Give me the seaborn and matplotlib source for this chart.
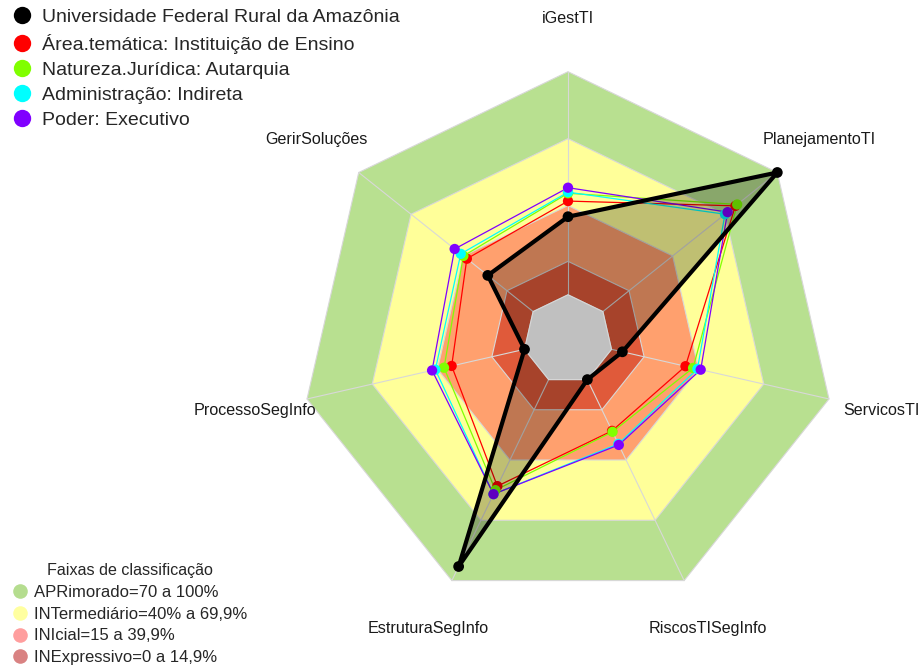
import numpy as np
import pandas as pd
import seaborn as sns
import matplotlib.pyplot as plt
from matplotlib.lines import Line2D

# eixos do radar (sentido horario a partir do topo)
axis_labels = ['iGestTI', 'PlanejamentoTI', 'ServicosTI', 'RiscosTISegInfo',
               'EstruturaSegInfo', 'ProcessoSegInfo', 'GerirSoluções']

series_names = ['Universidade Federal Rural da Amazônia',
                'Área.temática: Instituição de Ensino',
                'Natureza.Jurídica: Autarquia',
                'Administração: Indireta',
                'Poder: Executivo']
series_colors = ['black', '#FF0000', '#80FF00', '#00FFFF', '#8000FF']

ufra = [35, 100, 5, 0, 93, 0, 26]
area_tematica = [42, 76, 34, 25.5, 53, 33.5, 38]
natureza = [45.5, 77, 37.5, 26, 55, 37, 40]
administracao = [46, 70, 39.5, 32, 57, 41, 41.5]
poder = [48, 71.5, 41, 32.5, 57, 42.5, 45]
series_values = [ufra, area_tematica, natureza, administracao, poder]

# faixas de classificacao
band_levels = [100, 70, 40, 15]
band_colors = ['#B8E090', '#FFFF99', '#FFA06E', '#E05A3A']
center_color = '#C0C0C0'
band_labels = ['APRimorado=70 a 100%', 'INTermediário=40% a 69,9%',
               'INIcial=15 a 39,9%', 'INExpressivo=0 a 14,9%']
band_legend_colors = ['#B5DD8F', '#FFFFA0', '#FF9E9E', '#D98282']

n = len(axis_labels)
theta = np.pi / 2 - 2 * np.pi * np.arange(n) / n


def to_xy(values):
    # escala estilo fmsb: 5 segmentos com um vazio central
    r = (1 + 5 * np.asarray(values, dtype=float) / 100) / 6
    return r * np.cos(theta), r * np.sin(theta)


sns.set_theme(style="white")
plt.rcParams['font.family'] = ['Liberation Sans', 'DejaVu Sans']

fig = plt.figure(figsize=(9.21, 6.66), dpi=100)
ax = fig.add_axes([0, 0, 1, 1])
ax.set_xlim(-2.1218, 1.3186)
ax.set_ylim(-1.2200, 1.2678)
ax.axis('off')

# fundo em faixas
for lvl, col in zip(band_levels, band_colors):
    bx, by = to_xy([lvl] * n)
    ax.fill(bx, by, color=col, lw=0, zorder=1)
for lvl in band_levels + [0]:
    bx, by = to_xy([lvl] * n)
    ax.fill(bx, by, fill=False, ec='#D8D8D8', lw=0.8, zorder=2)
x0, y0 = to_xy([0] * n)
x1, y1 = to_xy([100] * n)
for i in range(n):
    ax.plot([x0[i], x1[i]], [y0[i], y1[i]], color='#D8D8D8', lw=0.8, zorder=2)

# series
rows = []
for name, vals in zip(series_names, series_values):
    sx, sy = to_xy(vals)
    for a, xx, yy in zip(axis_labels, sx, sy):
        rows.append({'serie': name, 'eixo': a, 'x': xx, 'y': yy})
df = pd.DataFrame(rows)

for name, col in list(zip(series_names, series_colors))[1:]:
    d = df[df['serie'] == name]
    ax.plot(np.append(d['x'].values, d['x'].values[0]),
            np.append(d['y'].values, d['y'].values[0]),
            color=col, lw=0.9, zorder=3)
    sns.scatterplot(data=d, x='x', y='y', color=col, s=55, edgecolor='none',
                    legend=False, ax=ax, zorder=4)

d = df[df['serie'] == series_names[0]]
ax.fill(d['x'], d['y'], color='black', alpha=0.25, lw=0, zorder=5)
# vazio central por cima do preenchimento
ax.fill(x0, y0, color=center_color, ec='#D8D8D8', lw=0.8, zorder=5.5)
ax.plot(np.append(d['x'].values, d['x'].values[0]),
        np.append(d['y'].values, d['y'].values[0]),
        color='black', lw=3, zorder=6)
sns.scatterplot(data=d, x='x', y='y', color='black', s=60, edgecolor='none',
                legend=False, ax=ax, zorder=7)
ax.set_xlabel('')
ax.set_ylabel('')

# rotulos dos eixos
for lab, t in zip(axis_labels, theta):
    ax.text(1.2 * np.cos(t), 1.2 * np.sin(t), lab, ha='center', va='center',
            fontsize=11.6, color='#1a1a1a')

# legenda das series
h1 = [Line2D([], [], ls='none', marker='o', markersize=12.5, color=c,
             markeredgewidth=0) for c in series_colors]
fig.legend(h1, series_names, loc='upper left', bbox_to_anchor=(0.0134, 0.987),
           frameon=False, fontsize=14, handlelength=1.0, handletextpad=0.5,
           labelspacing=0.38, borderpad=0, borderaxespad=0)

# legenda das faixas
h2 = [Line2D([], [], ls='none', marker='o', markersize=10.5, color=c,
             markeredgewidth=0) for c in band_legend_colors]
fig.legend(h2, band_labels, title='Faixas de classificação', loc='lower left',
           bbox_to_anchor=(0.0135, 0.0), frameon=False, fontsize=12,
           title_fontsize=11.6, handlelength=0.8, handletextpad=0.45,
           labelspacing=0.4, borderpad=0, borderaxespad=0.05)

fig.savefig('out.png', dpi=100)
